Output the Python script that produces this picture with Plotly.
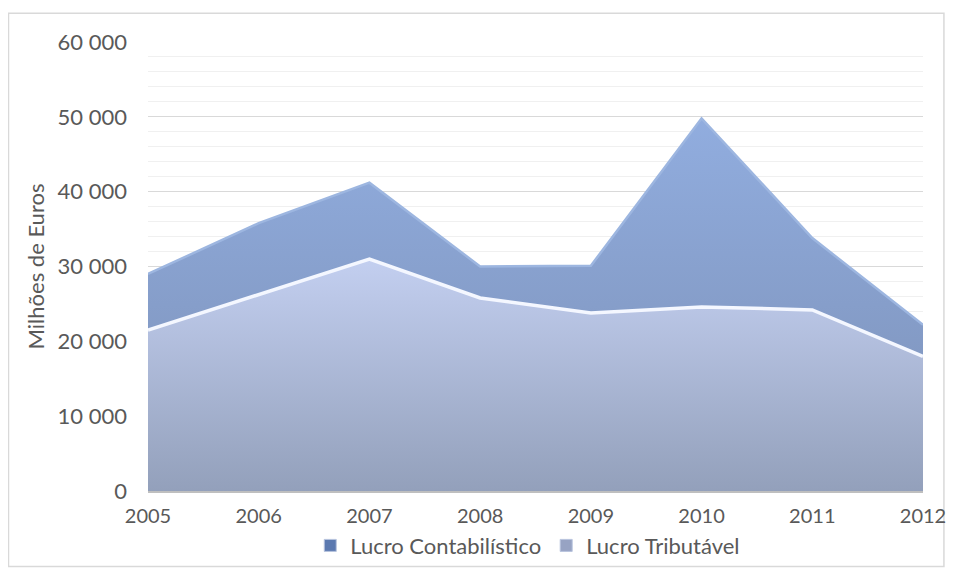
import plotly.graph_objects as go

anos = [2005, 2006, 2007, 2008, 2009, 2010, 2011, 2012]
lucro_contabilistico = [29000, 35800, 41200, 30000, 30100, 49800, 33800, 22200]
lucro_tributavel = [21500, 26200, 31000, 25800, 23800, 24600, 24200, 18000]

FONT = "Lato"
COR_CONTAB = "#5b79b0"
COR_TRIB = "#97a3c3"

fig = go.Figure()
fig.add_trace(go.Scatter(
    x=anos, y=lucro_contabilistico, name="Lucro Contabilístico", mode="lines",
    line=dict(color="#9db6e0", width=2.5), fill="tozeroy", showlegend=False,
    fillgradient=dict(type="vertical", colorscale=[[0, "#7b8fb5"], [1, "#91addf"]]),
))
fig.add_trace(go.Scatter(
    x=anos, y=lucro_tributavel, name="Lucro Tributável", mode="lines",
    line=dict(color="#f4f7ff", width=3.5), fill="tozeroy", showlegend=False,
    fillgradient=dict(type="vertical", colorscale=[[0, "#93a0bb"], [1, "#c3cff0"]]),
))
# legend entries with square swatches
for nome, cor in [("Lucro Contabilístico", COR_CONTAB), ("Lucro Tributável", COR_TRIB)]:
    fig.add_trace(go.Scatter(x=[None], y=[None], mode="markers", name=nome,
                             marker=dict(symbol="square", size=12, color=cor,
                                         line=dict(color="#b8c4de", width=1))))

# page body has an 8px margin: keep the figure small enough that nothing scrolls
fig.update_layout(
    width=938, height=560, paper_bgcolor="white", plot_bgcolor="white",
    margin=dict(l=140, r=23, t=34, b=77),
    font=dict(family=FONT, size=22, color="#595959"),
    showlegend=True,
    legend=dict(orientation="h", x=0.49, xanchor="center", yref="container", y=0.04,
                yanchor="middle", font=dict(size=22, color="#595959"), itemwidth=30,
                tracegroupgap=0, bgcolor="rgba(0,0,0,0)"),
    shapes=[dict(type="rect", xref="paper", yref="paper", x0=-0.18, x1=1.027, y0=-0.168, y1=1.064,
                 line=dict(color="#d9d9d9", width=1.5), layer="below")],
)
fig.update_xaxes(range=[2005, 2012], tickmode="array", tickvals=anos, showgrid=False,
                 showline=True, linecolor="#bfbfbf", linewidth=2, ticks="", zeroline=False,
                 automargin=False, ticklabeloverflow="allow", ticklabelstandoff=6,
                 tickfont=dict(size=20))
fig.update_yaxes(range=[0, 60000], dtick=10000, tickformat=",d",
                 gridcolor="#d9d9d9", gridwidth=1, zeroline=False, ticks="", automargin=False,
                 ticklabelstandoff=20,
                 minor=dict(dtick=2000, showgrid=True, gridcolor="#f0f0f0", gridwidth=1),
                 title=dict(text="Milhões de Euros", font=dict(size=22, color="#595959"), standoff=6))
fig.update_layout(separators=". ")

fig.write_html("out.html")
